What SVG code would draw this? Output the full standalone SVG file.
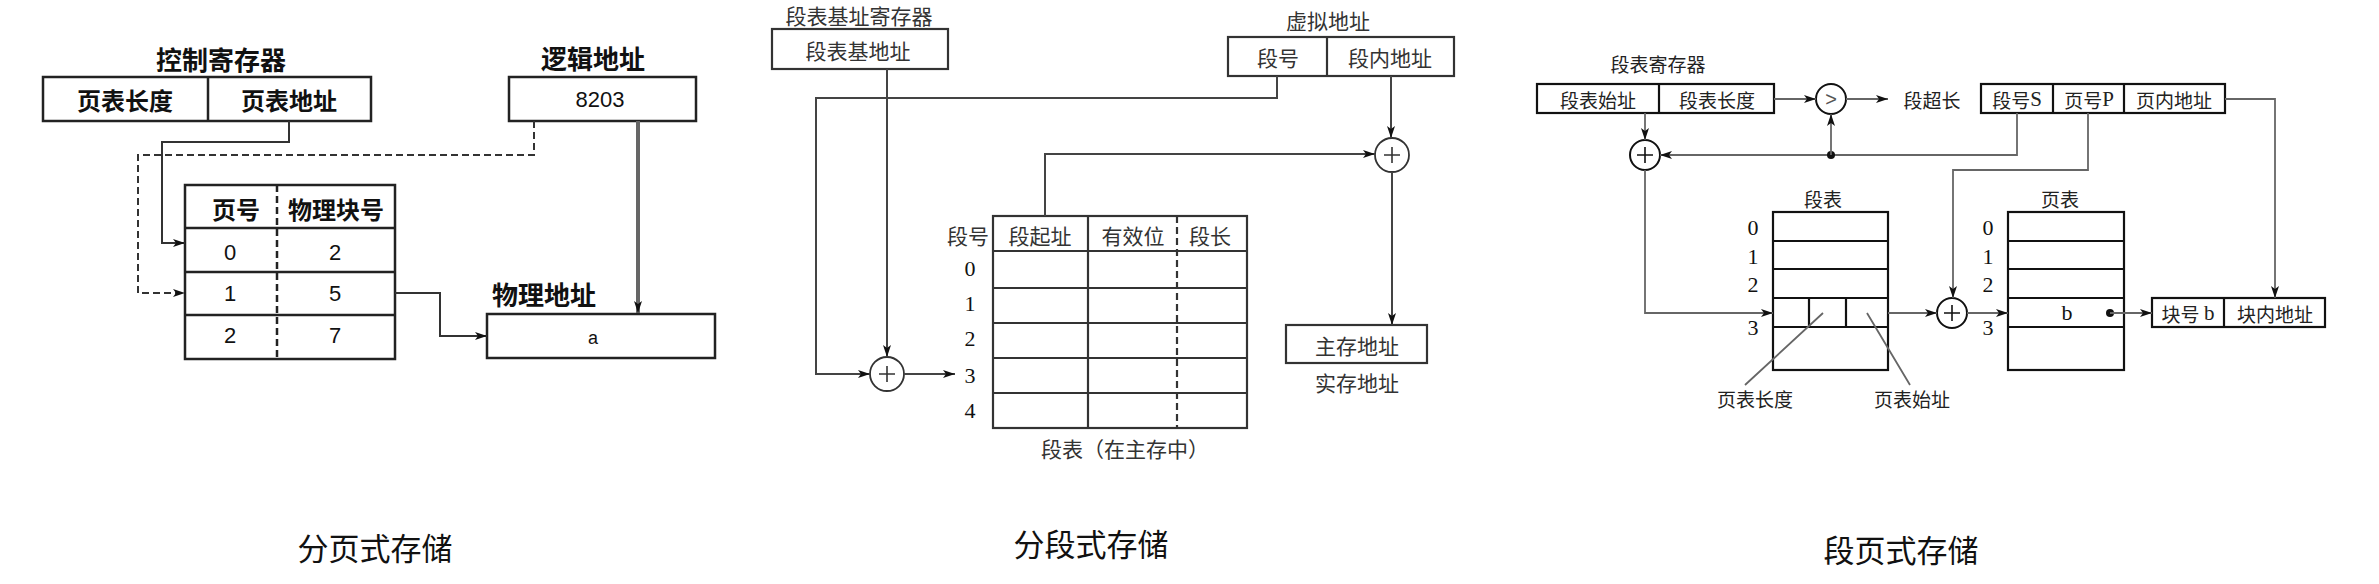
<svg xmlns="http://www.w3.org/2000/svg" width="2379" height="584" viewBox="0 0 2379 584">
<defs>
<style>
text{font-family:"Noto Sans CJK SC","Liberation Sans",sans-serif;text-anchor:middle;dominant-baseline:central;fill:#111}
.b{font-weight:bold;font-size:24px}
.t{font-weight:bold;font-size:26px}
.m{font-size:21px;fill:#333}
.r{font-size:19px;fill:#222}
.d{font-family:"Liberation Serif",serif;font-size:22px}
.cap{font-size:31px;fill:#111}
.box1{fill:none;stroke:#222;stroke-width:2.5}
.box2{fill:none;stroke:#333;stroke-width:2.2}
.box3{fill:none;stroke:#111;stroke-width:2.2}
.ln1{fill:none;stroke:#333;stroke-width:2}
.ln2{fill:none;stroke:#444;stroke-width:2}
.ln3{fill:none;stroke:#666;stroke-width:1.8}
.dash{stroke-dasharray:7 4}
</style>
<marker id="arr" viewBox="0 0 12 10" refX="12" refY="5" markerWidth="13" markerHeight="10" markerUnits="userSpaceOnUse" orient="auto">
<path d="M0,1 L12,5 L0,9 L3,5 z" fill="#111"/>
</marker>
</defs>
<rect width="2379" height="584" fill="#fff"/>

<!-- Panel 1: paging -->
<g id="p1-ctrl-reg">
<text class="t" x="221" y="58">控制寄存器</text>
<rect class="box1" x="43" y="77" width="328" height="44"/>
<line class="box1" x1="208" y1="77" x2="208" y2="121"/>
<text class="b" x="125" y="99">页表长度</text>
<text class="b" x="289" y="99">页表地址</text>
</g>
<g id="p1-logical">
<text class="t" x="593" y="57">逻辑地址</text>
<rect class="box1" x="509" y="77" width="187" height="44"/>
<text x="600" y="99" style="font-family:'Liberation Sans',sans-serif;font-size:22px">8203</text>
</g>
<g id="p1-page-table">
<rect class="box1" x="185" y="185" width="210" height="174"/>
<line class="box1" x1="185" y1="228" x2="395" y2="228" stroke-width="1.5"/>
<line class="box1" x1="185" y1="272" x2="395" y2="272" stroke-width="3"/>
<line class="box1" x1="185" y1="315" x2="395" y2="315" stroke-width="1.5"/>
<line class="box1 dash" x1="277" y1="185" x2="277" y2="359" stroke-width="1.3"/>
<text class="b" x="236" y="208">页号</text>
<text class="b" x="336" y="208">物理块号</text>
<text class="d" style="font-family:'Liberation Sans',sans-serif" x="230" y="252">0</text>
<text class="d" style="font-family:'Liberation Sans',sans-serif" x="335" y="252">2</text>
<text class="d" style="font-family:'Liberation Sans',sans-serif" x="230" y="293">1</text>
<text class="d" style="font-family:'Liberation Sans',sans-serif" x="335" y="293">5</text>
<text class="d" style="font-family:'Liberation Sans',sans-serif" x="230" y="335">2</text>
<text class="d" style="font-family:'Liberation Sans',sans-serif" x="335" y="335">7</text>
</g>
<g id="p1-physical">
<text class="t" x="544" y="293">物理地址</text>
<rect class="box1" x="487" y="314" width="228" height="44"/>
<text x="593" y="338" style="font-family:'Liberation Sans',sans-serif;font-size:18px">a</text>
</g>

<!-- Panel 2: segmentation -->
<g id="p2-base-reg">
<text class="m" x="859" y="15">段表基址寄存器</text>
<rect class="box2" x="772" y="29" width="176" height="40"/>
<text class="m" x="858" y="50">段表基地址</text>
</g>
<g id="p2-virtual">
<text class="m" x="1328" y="20">虚拟地址</text>
<rect class="box2" x="1228" y="37" width="226" height="39"/>
<line class="box2" x1="1327" y1="37" x2="1327" y2="76"/>
<text class="m" x="1278" y="57">段号</text>
<text class="m" x="1390" y="57">段内地址</text>
</g>
<g id="p2-adder1">
<circle cx="887" cy="374" r="17" fill="#fff" stroke="#333" stroke-width="1.8"/>
<path d="M879,374 H895 M887,366 V382" stroke="#333" stroke-width="1.6"/>
</g>
<g id="p2-adder2">
<circle cx="1392" cy="155" r="17" fill="#fff" stroke="#333" stroke-width="1.8"/>
<path d="M1384,155 H1400 M1392,147 V163" stroke="#333" stroke-width="1.6"/>
</g>
<g id="p2-seg-table">
<rect class="box2" x="993" y="216" width="254" height="212"/>
<path class="box2" d="M993,251 H1247 M993,323 H1247 M993,358 H1247 M1088,216 V428"/>
<path class="box2" stroke-width="1.4" d="M993,288 H1247 M993,393 H1247"/>
<line class="box2 dash" x1="1177" y1="216" x2="1177" y2="428" stroke-width="1.4"/>
<text class="m" x="968" y="235">段号</text>
<text class="m" x="1040" y="235">段起址</text>
<text class="m" x="1133" y="235">有效位</text>
<text class="m" x="1210" y="235">段长</text>
<text class="d" x="970" y="268">0</text>
<text class="d" x="970" y="303">1</text>
<text class="d" x="970" y="338">2</text>
<text class="d" x="970" y="375">3</text>
<text class="d" x="970" y="410">4</text>
<text class="m" x="1125" y="448">段表（在主存中）</text>
</g>
<g id="p2-main-addr">
<rect class="box2" x="1286" y="325" width="141" height="38"/>
<text class="m" x="1357" y="345">主存地址</text>
<text class="m" x="1357" y="382">实存地址</text>
</g>

<!-- Panel 3: segment-paging -->
<g id="p3-seg-reg">
<text class="r" x="1658" y="63">段表寄存器</text>
<rect class="box3" x="1537" y="84" width="237" height="29"/>
<line class="box3" x1="1659" y1="84" x2="1659" y2="113"/>
<text class="r" x="1598" y="99">段表始址</text>
<text class="r" x="1717" y="99">段表长度</text>
</g>
<g id="p3-compare">
<circle cx="1831" cy="99" r="15" fill="#fff" stroke="#111" stroke-width="2"/>
<text x="1831" y="99" style="font-family:'Liberation Sans',sans-serif;font-size:20px;fill:#555">&gt;</text>
</g>
<g id="p3-overflow">
<text class="r" x="1932" y="99">段超长</text>
</g>
<g id="p3-virtual">
<rect class="box3" x="1981" y="84" width="244" height="29"/>
<path class="box3" d="M2053,84 V113 M2124,84 V113"/>
<text class="r" x="2017" y="99">段号<tspan style="font-family:'Liberation Serif',serif;font-size:21px">S</tspan></text>
<text class="r" x="2089" y="99">页号<tspan style="font-family:'Liberation Serif',serif;font-size:21px">P</tspan></text>
<text class="r" x="2174" y="99">页内地址</text>
</g>
<g id="p3-adder1">
<circle cx="1645" cy="155" r="15" fill="#fff" stroke="#111" stroke-width="2"/>
<path d="M1637,155 H1653 M1645,147 V163" stroke="#111" stroke-width="1.6"/>
</g>
<g id="p3-seg-table">
<text class="r" x="1823" y="198">段表</text>
<rect class="box3" x="1773" y="212" width="115" height="158"/>
<path class="box3" d="M1773,241 H1888 M1773,269 H1888 M1773,298 H1888 M1773,327 H1888 M1809,298 V327 M1846,298 V327"/>
<text class="d" x="1753" y="227">0</text>
<text class="d" x="1753" y="256">1</text>
<text class="d" x="1753" y="284">2</text>
<text class="d" x="1753" y="327">3</text>
<path class="ln3" stroke-width="1.3" d="M1823,313 L1745,385 M1867,313 L1910,385"/>
<text class="r" x="1755" y="398">页表长度</text>
<text class="r" x="1912" y="398">页表始址</text>
</g>
<g id="p3-adder2">
<circle cx="1952" cy="313" r="15" fill="#fff" stroke="#111" stroke-width="2"/>
<path d="M1944,313 H1960 M1952,305 V321" stroke="#111" stroke-width="1.6"/>
</g>
<g id="p3-page-table">
<text class="r" x="2060" y="198">页表</text>
<rect class="box3" x="2008" y="212" width="116" height="158"/>
<path class="box3" d="M2008,241 H2124 M2008,269 H2124 M2008,298 H2124 M2008,327 H2124"/>
<text class="d" x="1988" y="227">0</text>
<text class="d" x="1988" y="256">1</text>
<text class="d" x="1988" y="284">2</text>
<text class="d" x="1988" y="327">3</text>
<text class="d" x="2067" y="312">b</text>
<circle cx="2110" cy="313" r="4" fill="#111"/>
</g>
<g id="p3-physical">
<rect class="box3" x="2152" y="298" width="173" height="29"/>
<line class="box3" x1="2224" y1="298" x2="2224" y2="327"/>
<text class="r" x="2188" y="313">块号 <tspan style="font-family:'Liberation Serif',serif;font-size:21px">b</tspan></text>
<text class="r" x="2275" y="313">块内地址</text>
</g>

<!-- Connectors -->
<g id="connectors">
<path class="ln1" d="M289,121 V142 H162 V243 H185" marker-end="url(#arr)"/>
<path class="ln1 dash" stroke-width="1.6" d="M534,121 V155 H138 V293 H185" marker-end="url(#arr)"/>
<path fill="none" stroke="#666" stroke-width="4" d="M638,121 V313" marker-end="url(#arr)"/>
<path class="ln1" stroke-width="1.6" d="M395,293 H440 V336 H487" marker-end="url(#arr)"/>

<path class="ln2" stroke-width="2.6" d="M887,69 V357" marker-end="url(#arr)"/>
<path class="ln2" stroke-width="2.4" d="M1277,76 V98 H816 V374 H870" marker-end="url(#arr)"/>
<path class="ln2" stroke-width="1.5" d="M904,374 H955" marker-end="url(#arr)"/>
<path class="ln2" d="M1045,216 V154 H1375" marker-end="url(#arr)"/>
<path class="ln2" d="M1391,76 V138" marker-end="url(#arr)"/>
<path class="ln2" d="M1392,172 V325" marker-end="url(#arr)"/>

<path class="ln3" d="M1774,99 H1816" marker-end="url(#arr)"/>
<path class="ln3" d="M1846,99 H1888" marker-end="url(#arr)"/>
<path class="ln3" d="M1645,113 V140" marker-end="url(#arr)"/>
<path class="ln3" stroke="#222" d="M2017,113 V155 H1660" marker-end="url(#arr)"/>
<circle cx="1831" cy="155" r="4" fill="#111"/>
<path class="ln3" stroke="#222" d="M1831,155 V114" marker-end="url(#arr)"/>
<path class="ln3" d="M2088,113 V170 H1953 V298" marker-end="url(#arr)"/>
<path class="ln3" d="M2225,99 H2275 V298" marker-end="url(#arr)"/>
<path class="ln3" d="M1645,170 V313 H1773" marker-end="url(#arr)"/>
<path class="ln3" d="M1888,313 H1937" marker-end="url(#arr)"/>
<path class="ln3" d="M1967,313 H2008" marker-end="url(#arr)"/>
<path class="ln3" d="M2110,313 H2152" marker-end="url(#arr)"/>
</g>

<g id="captions">
<text class="cap" x="375" y="546">分页式存储</text>
<text class="cap" x="1091" y="542">分段式存储</text>
<text class="cap" x="1901" y="548">段页式存储</text>
</g>
</svg>
